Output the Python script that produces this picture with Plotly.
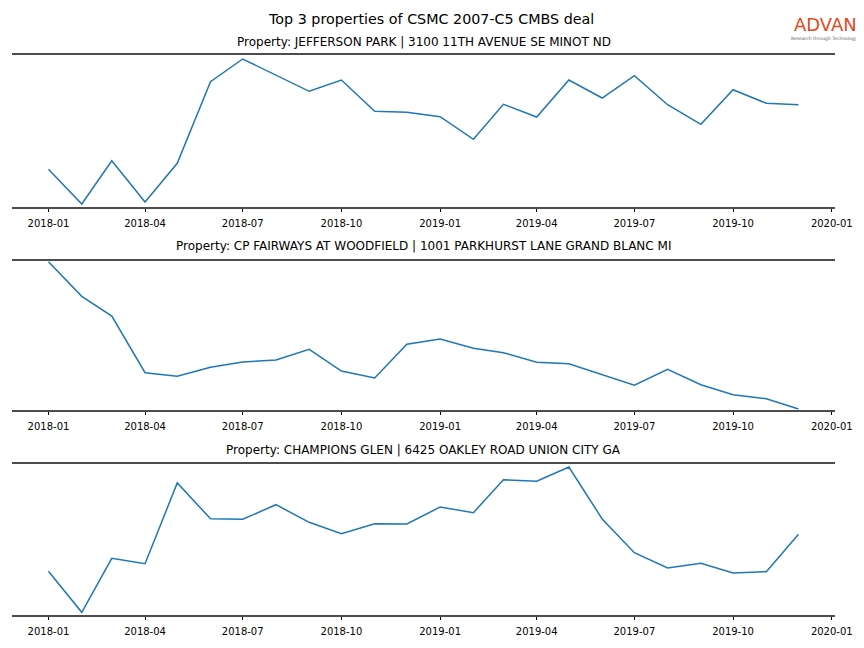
import plotly.graph_objects as go
from plotly.subplots import make_subplots

months = ["2018-01-01", "2018-02-01", "2018-03-01", "2018-04-01", "2018-05-01", "2018-06-01",
          "2018-07-01", "2018-08-01", "2018-09-01", "2018-10-01", "2018-11-01", "2018-12-01",
          "2019-01-01", "2019-02-01", "2019-03-01", "2019-04-01", "2019-05-01", "2019-06-01",
          "2019-07-01", "2019-08-01", "2019-09-01", "2019-10-01", "2019-11-01", "2019-12-01"]

jefferson_park = [37.4, 2.7, 46.0, 4.7, 43.4, 125.0, 147.7, 131.7, 115.4, 126.7, 95.4, 94.4,
                  90.0, 67.4, 102.4, 89.7, 126.7, 108.7, 131.0, 102.0, 82.4, 117.0, 103.4, 102.0]
cp_fairways = [148.0, 113.4, 93.7, 37.0, 33.4, 42.4, 47.7, 49.7, 60.4, 38.7, 31.7, 65.4,
               70.7, 61.4, 57.0, 47.4, 46.0, 34.7, 24.4, 40.4, 25.0, 15.0, 11.0, 0.7]
champions_glen = [43.4, 2.4, 56.4, 51.0, 131.7, 96.0, 95.4, 110.0, 92.4, 81.0, 91.0, 90.7,
                  107.7, 102.0, 135.0, 133.4, 147.7, 95.7, 62.0, 46.7, 51.4, 41.7, 43.0, 80.4]

panel_titles = [
    "Property: JEFFERSON PARK | 3100 11TH AVENUE SE MINOT ND",
    "Property: CP FAIRWAYS AT WOODFIELD | 1001 PARKHURST LANE GRAND BLANC MI",
    "Property: CHAMPIONS GLEN | 6425 OAKLEY ROAD UNION CITY GA",
]
main_title = "Top 3 properties of CSMC 2007-C5 CMBS deal"
series = [jefferson_park, cp_fairways, champions_glen]
y_ranges = [[0, 151.7], [0, 149.0], [0, 151.0]]

# page has an 8px body margin; figure is sized so page == window
OFF = 8.0
W, H = 864.0 - 2 * OFF, 648.0 - 2 * OFF


def px(x):
    return (x - OFF) / W


def py(y):
    return 1 - (y - OFF) / H


panel_tops = [55.0, 260.7, 463.7]
panel_bottoms = [206.7, 409.7, 614.7]
title_y = [42, 246, 450]
x_left, x_right = 12.0, 835.0

fig = make_subplots(rows=3, cols=1)
font = "DejaVu Sans"
for i, vals in enumerate(series):
    fig.add_trace(go.Scatter(x=months, y=vals, mode="lines",
                             line=dict(color="#1f77b4", width=1.5),
                             showlegend=False, hoverinfo="x+y"), row=i + 1, col=1)
    ax = "" if i == 0 else str(i + 1)
    fig.layout["xaxis" + ax].update(
        type="date", range=["2017-11-28", "2020-01-04"],
        tick0="2018-01-01", dtick="M3", tickformat="%Y-%m",
        ticks="outside", ticklen=3.5, tickwidth=0.8, tickcolor="black",
        ticklabelstandoff=3,
        showline=True, mirror=True, linecolor="#4d4d4d", linewidth=2,
        showgrid=False, zeroline=False, automargin=False,
        tickfont=dict(family=font, size=10, color="black"),
        domain=[px(x_left), px(x_right)],
    )
    fig.layout["yaxis" + ax].update(
        range=y_ranges[i], showticklabels=False, showgrid=False,
        zeroline=False, showline=False, ticks="", automargin=False,
        domain=[py(panel_bottoms[i]), py(panel_tops[i])],
    )
    fig.add_annotation(text=panel_titles[i], xref="paper", yref="paper",
                       x=px((x_left + x_right) / 2), y=py(title_y[i]),
                       showarrow=False, xanchor="center", yanchor="middle",
                       font=dict(family=font, size=12, color="black"))

fig.add_annotation(text=main_title, xref="paper", yref="paper",
                   x=px(431), y=py(19), showarrow=False,
                   xanchor="center", yanchor="middle",
                   font=dict(family=font, size=14.3, color="black"))

# logo
fig.add_annotation(text="ADVAN", xref="paper", yref="paper",
                   x=px(825), y=py(24), showarrow=False,
                   xanchor="center", yanchor="middle",
                   font=dict(family="DejaVu Sans", size=18, color="#e04a1c"))
fig.add_annotation(text="Research through Technology", xref="paper", yref="paper",
                   x=px(824), y=py(38.5), showarrow=False,
                   xanchor="center", yanchor="middle",
                   font=dict(family="DejaVu Sans", size=4.5, color="#666666"))

fig.update_layout(width=W, height=H, margin=dict(l=0, r=0, t=0, b=0),
                  plot_bgcolor="white", paper_bgcolor="white")
fig.write_html("out.html")
